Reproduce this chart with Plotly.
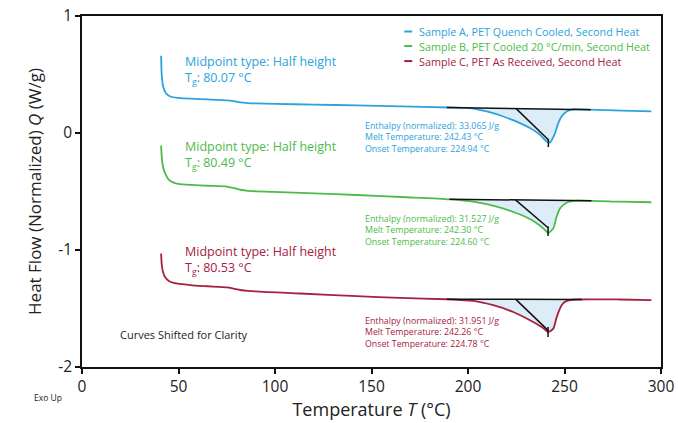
import numpy as np
import plotly.graph_objects as go

# ---------------- data ----------------
names = ["Sample A, PET Quench Cooled, Second Heat",
         "Sample B, PET Cooled 20 °C/min, Second Heat",
         "Sample C, PET As Received, Second Heat"]
colors = ["#2ba3dc", "#4dbb4a", "#a6213f"]

temp_a = [41, 41.3, 42, 43.5, 46, 50, 56.2, 65, 75.1, 78.5, 82, 86, 90, 100, 120, 142.4, 165, 190,
          201.1, 209.7, 218.3, 227, 232.1, 237.3, 240.8, 242.4, 243.4, 245.1, 246.8, 248.5,
          251.1, 254.6, 263, 280, 295]
hf_a = [0.66, 0.50, 0.40, 0.34, 0.31, 0.30, 0.293, 0.287, 0.279, 0.272, 0.262, 0.256, 0.253, 0.249,
        0.243, 0.236, 0.228, 0.218, 0.213, 0.184, 0.141, 0.085, 0.042, -0.015, -0.073, -0.082,
        -0.06, -0.001, 0.085, 0.141, 0.184, 0.203, 0.200, 0.192, 0.184]

temp_b = [41, 41.3, 42, 43.2, 45, 47.5, 50, 56.2, 65, 75.1, 78.5, 82, 86, 99.3, 120, 142.4, 168.3,
          190.4, 202.8, 214.9, 225.3, 233, 239, 241.6, 244.2, 245.9, 247.7, 251.1, 256.3, 278.7, 295]
hf_b = [-0.107, -0.20, -0.29, -0.35, -0.40, -0.424, -0.435, -0.444, -0.451, -0.458, -0.470,
        -0.485, -0.494, -0.504, -0.516, -0.53, -0.549, -0.567, -0.587, -0.63, -0.686, -0.744,
        -0.815, -0.853, -0.815, -0.716, -0.644, -0.596, -0.578, -0.587, -0.592]

temp_c = [41, 41.3, 42, 43.2, 45, 47.5, 56.2, 65, 75.1, 78.5, 82, 86, 113.1, 142.4, 164.8, 189,
          202.8, 213.1, 223.5, 232.1, 238.2, 241.6, 244.2, 246, 248.5, 251.1, 256.3, 278.7, 295]
hf_c = [-1.03, -1.12, -1.19, -1.235, -1.265, -1.281, -1.30, -1.31, -1.32, -1.330, -1.342, -1.35,
        -1.372, -1.395, -1.41, -1.421, -1.435, -1.472, -1.53, -1.60, -1.658, -1.70, -1.672,
        -1.572, -1.472, -1.435, -1.423, -1.423, -1.428]

temps = [temp_a, temp_b, temp_c]
flows = [hf_a, hf_b, hf_c]

# integration baselines (x0, y0, x1, y1)
base_x0 = [189, 190.4, 189]
base_y0 = [0.218, -0.567, -1.421]
base_x1 = [263.6, 264, 258.9]
base_y1 = [0.198, -0.578, -1.423]

onset_t = [224.94, 224.60, 224.78]
melt_t = [242.43, 242.30, 242.26]
enthalpy = [33.065, 31.527, 31.951]
tip_y = [-0.058, -0.81, -1.687]
tick_top = [-0.05, -0.80, -1.658]
tick_bot = [-0.12, -0.88, -1.744]

tg_values = [80.07, 80.49, 80.53]

x_ticks = [0, 50, 100, 150, 200, 250, 300]
y_ticks = [-2, -1, 0, 1]
y_ticklabels = ["-2", "-1", "0", "1"]

FONT = "Open Sans"

fig = go.Figure()

for i in range(3):
    t = np.array(temps[i])
    q = np.array(flows[i])
    # shaded peak area
    m = (t >= base_x0[i]) & (t <= base_x1[i])
    px = list(t[m]) + [base_x1[i], base_x0[i]]
    py = list(q[m]) + [base_y1[i], base_y0[i]]
    fig.add_trace(go.Scatter(x=px, y=py, fill="toself", fillcolor="#dcedf8",
                             line=dict(width=0), mode="lines", showlegend=False,
                             hoverinfo="skip"))

for i in range(3):
    fig.add_trace(go.Scatter(x=temps[i], y=flows[i], mode="lines", name=names[i],
                             line=dict(color=colors[i], width=1.8, shape="spline", smoothing=0.6),
                             showlegend=False))

for i in range(3):
    # baseline
    fig.add_trace(go.Scatter(x=[base_x0[i], base_x1[i]], y=[base_y0[i], base_y1[i]],
                             mode="lines", line=dict(color="#111111", width=1.5),
                             showlegend=False, hoverinfo="skip"))
    yb = float(np.interp(onset_t[i], [base_x0[i], base_x1[i]], [base_y0[i], base_y1[i]]))
    fig.add_trace(go.Scatter(x=[onset_t[i], melt_t[i] - 0.8], y=[yb, tip_y[i]],
                             mode="lines", line=dict(color="#111111", width=1.5),
                             showlegend=False, hoverinfo="skip"))
    fig.add_trace(go.Scatter(x=[melt_t[i] - 0.8, melt_t[i] - 0.8], y=[tick_top[i], tick_bot[i]],
                             mode="lines", line=dict(color="#111111", width=1.5),
                             showlegend=False, hoverinfo="skip"))

# Tg annotations
tg_ytop = [0.70, -0.025, -0.925]
for i in range(3):
    fig.add_annotation(x=52.5, y=tg_ytop[i], xref="x", yref="y", xanchor="left", yanchor="top",
                       align="left",
                       text="Midpoint type: Half height<br>T<sub>g</sub>: %.2f °C" % tg_values[i],
                       showarrow=False,
                       font=dict(family=FONT, size=12.5, color=colors[i]))

# peak annotations
en_ytop = [0.125, -0.67, -1.54]
for i in range(3):
    txt = ("Enthalpy (normalized): %.3f J/g<br>Melt Temperature: %.2f °C<br>"
           "Onset Temperature: %.2f °C") % (enthalpy[i], melt_t[i], onset_t[i])
    fig.add_annotation(x=145.5, y=en_ytop[i], xref="x", yref="y", xanchor="left",
                       yanchor="top", align="left", text=txt, showarrow=False,
                       font=dict(family=FONT, size=8.8, color=colors[i]))

# manual legend
def px_x(p):
    return (p - 81.5) / 579.5

def px_y(p):
    return (367 - p) / 350.5

leg_y = [32, 46.5, 61.5]
for i in range(3):
    fig.add_shape(type="line", xref="paper", yref="paper",
                  x0=px_x(404), x1=px_x(412), y0=px_y(leg_y[i]), y1=px_y(leg_y[i]),
                  line=dict(color=colors[i], width=2))
    fig.add_annotation(x=px_x(417), y=px_y(leg_y[i]), xref="paper", yref="paper",
                       xanchor="left", yanchor="middle", text=names[i], showarrow=False,
                       font=dict(family=FONT, size=10.8, color=colors[i]))

fig.add_annotation(x=18.4, y=-1.72, xref="x", yref="y", xanchor="left", yanchor="middle",
                   text="Curves Shifted for Clarity", showarrow=False,
                   font=dict(family=FONT, size=11, color="#222222"))
fig.add_annotation(x=px_x(31), y=px_y(397), xref="paper", yref="paper", xanchor="left",
                   yanchor="middle", text="Exo Up", showarrow=False,
                   font=dict(family=FONT, size=8.5, color="#222222"))

fig.update_layout(
    width=678, height=423,
    margin=dict(l=82, r=17, t=16, b=56, autoexpand=False),
    paper_bgcolor="white", plot_bgcolor="white",
    font=dict(family=FONT, color="#222222"),
    showlegend=False,
    xaxis=dict(range=[0, 300], tickvals=x_ticks, showgrid=False, zeroline=False,
               automargin=False,
               showline=True, linecolor="#111111", linewidth=1.5, mirror=True,
               ticks="outside", ticklen=5, tickwidth=1.5, tickcolor="#111111",
               tickfont=dict(family=FONT, size=15.5, color="#222222"),
               title=dict(text="Temperature <i>T</i> (°C)", standoff=4,
                          font=dict(family=FONT, size=18, color="#222222"))),
    yaxis=dict(range=[-2, 1], tickvals=y_ticks, ticktext=y_ticklabels, showgrid=False,
               automargin=False,
               zeroline=False, showline=True, linecolor="#111111", linewidth=1.5, mirror=True,
               ticks="outside", ticklen=5, tickwidth=1.5, tickcolor="#111111",
               tickfont=dict(family=FONT, size=15.5, color="#222222"),
               title=dict(text="Heat Flow (Normalized) <i>Q</i> (W/g)", standoff=12,
                          font=dict(family=FONT, size=17, color="#222222"))),
)

fig.write_html("out.html")
